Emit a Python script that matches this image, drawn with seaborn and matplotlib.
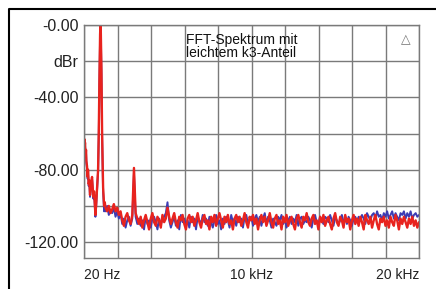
import numpy as np
import pandas as pd
import matplotlib
matplotlib.use("Agg")
import matplotlib.pyplot as plt
from matplotlib.lines import Line2D
import seaborn as sns

# ================= DATA (kHz / dBr) =================
# low-frequency part incl. the 1 kHz fundamental
LOW_FREQ_KHZ = [0.02, 0.04, 0.06, 0.08, 0.10, 0.12, 0.14, 0.16, 0.20, 0.24,
                0.26, 0.30, 0.34, 0.38, 0.42, 0.46, 0.50, 0.54, 0.58, 0.62,
                0.66, 0.70, 0.74, 0.78, 0.82, 0.86, 0.90, 0.94, 0.98, 1.00,
                1.02, 1.06, 1.10, 1.16, 1.22, 1.26]
LOW_RED_DB = [-66, -63, -68, -65, -70, -72, -69, -75, -78, -84,
              -80, -88, -86, -94, -90, -86, -84, -90, -95, -92,
              -98, -105, -100, -93, -87, -80, -60, -30, -5, -0.5,
              -2, -25, -60, -90, -100, -98]
LOW_BLUE_DB = [-67, -64, -69, -66, -71, -73, -70, -76, -79, -85,
               -81, -89, -87, -95, -91, -87, -85, -91, -96, -93,
               -99, -106, -101, -94, -88, -81, -62, -32, -7, -2,
               -4, -27, -62, -92, -103, -101]

# noise floor, 0.1 kHz bins from 1.3 kHz to 20 kHz
NOISE_FREQ_KHZ = [
    1.3, 1.4, 1.5, 1.6, 1.7, 1.8, 1.9, 2.0, 2.1, 2.2,
    2.3, 2.4, 2.5, 2.6, 2.7, 2.8, 2.9, 3.0, 3.1, 3.2,
    3.3, 3.4, 3.5, 3.6, 3.7, 3.8, 3.9, 4.0, 4.1, 4.2,
    4.3, 4.4, 4.5, 4.6, 4.7, 4.8, 4.9, 5.0, 5.1, 5.2,
    5.3, 5.4, 5.5, 5.6, 5.7, 5.8, 5.9, 6.0, 6.1, 6.2,
    6.3, 6.4, 6.5, 6.6, 6.7, 6.8, 6.9, 7.0, 7.1, 7.2,
    7.3, 7.4, 7.5, 7.6, 7.7, 7.8, 7.9, 8.0, 8.1, 8.2,
    8.3, 8.4, 8.5, 8.6, 8.7, 8.8, 8.9, 9.0, 9.1, 9.2,
    9.3, 9.4, 9.5, 9.6, 9.7, 9.8, 9.9, 10.0, 10.1, 10.2,
    10.3, 10.4, 10.5, 10.6, 10.7, 10.8, 10.9, 11.0, 11.1, 11.2,
    11.3, 11.4, 11.5, 11.6, 11.7, 11.8, 11.9, 12.0, 12.1, 12.2,
    12.3, 12.4, 12.5, 12.6, 12.7, 12.8, 12.9, 13.0, 13.1, 13.2,
    13.3, 13.4, 13.5, 13.6, 13.7, 13.8, 13.9, 14.0, 14.1, 14.2,
    14.3, 14.4, 14.5, 14.6, 14.7, 14.8, 14.9, 15.0, 15.1, 15.2,
    15.3, 15.4, 15.5, 15.6, 15.7, 15.8, 15.9, 16.0, 16.1, 16.2,
    16.3, 16.4, 16.5, 16.6, 16.7, 16.8, 16.9, 17.0, 17.1, 17.2,
    17.3, 17.4, 17.5, 17.6, 17.7, 17.8, 17.9, 18.0, 18.1, 18.2,
    18.3, 18.4, 18.5, 18.6, 18.7, 18.8, 18.9, 19.0, 19.1, 19.2,
    19.3, 19.4, 19.5, 19.6, 19.7, 19.8, 19.9, 20.0]
NOISE_RED_DB = [
    -101, -103, -100, -104, -102, -99, -103, -101, -105, -103,
    -108, -111, -106, -104, -108, -110, -105, -79, -104, -107,
    -110, -106, -112, -108, -105, -109, -113, -107, -104, -109,
    -111, -106, -108, -112, -105, -109, -107, -101, -106, -110,
    -107, -104, -109, -112, -106, -108, -105, -110, -113, -107,
    -105, -109, -106, -111, -108, -104, -109, -112, -107, -105,
    -110, -108, -113, -106, -109, -105, -111, -107, -104, -108,
    -112, -106, -109, -105, -110, -108, -113, -107, -105, -109,
    -106, -111, -108, -104, -109, -112, -106, -108, -105, -110,
    -107, -113, -108, -105, -109, -106, -111, -108, -104, -109,
    -112, -107, -105, -110, -108, -113, -106, -109, -105, -111,
    -108, -106, -110, -113, -107, -105, -109, -112, -106, -108,
    -104, -109, -111, -107, -105, -110, -108, -113, -106, -109,
    -105, -111, -108, -106, -110, -113, -107, -104, -109, -111,
    -106, -108, -112, -105, -109, -107, -113, -108, -105, -110,
    -107, -111, -106, -109, -113, -105, -108, -110, -106, -112,
    -108, -105, -110, -113, -107, -109, -106, -111, -108, -112,
    -106, -109, -111, -105, -108, -113, -107, -110, -106, -109,
    -112, -107, -110, -106, -111, -108, -112, -109]
NOISE_BLUE_DB = [
    -103, -100, -105, -102, -104, -101, -106, -103, -107, -104,
    -110, -107, -112, -108, -106, -111, -107, -82, -106, -110,
    -107, -111, -108, -113, -106, -110, -108, -112, -107, -106,
    -109, -113, -107, -110, -108, -106, -104, -98, -108, -112,
    -109, -106, -111, -108, -113, -105, -109, -107, -111, -108,
    -112, -106, -109, -107, -113, -106, -108, -110, -105, -109,
    -107, -111, -106, -109, -112, -108, -105, -110, -108, -113,
    -107, -110, -106, -108, -112, -105, -109, -107, -111, -106,
    -109, -107, -112, -106, -105, -110, -108, -106, -111, -107,
    -105, -109, -106, -111, -107, -104, -110, -106, -108, -112,
    -107, -109, -111, -106, -108, -105, -110, -107, -112, -108,
    -106, -110, -107, -109, -105, -111, -107, -106, -110, -108,
    -109, -106, -108, -112, -107, -105, -109, -110, -106, -108,
    -110, -106, -107, -109, -105, -108, -111, -106, -108, -110,
    -108, -105, -109, -107, -110, -106, -108, -111, -107, -106,
    -109, -106, -108, -105, -107, -110, -104, -106, -108, -105,
    -104, -107, -103, -106, -105, -108, -104, -106, -103, -107,
    -105, -103, -107, -104, -106, -108, -104, -105, -103, -107,
    -104, -106, -103, -107, -105, -104, -106, -105]

Y_TICKS = [0, -20, -40, -60, -80, -100, -120]
Y_TICK_LABELS = ["-0.00", "dBr", "-40.00", "", "-80.00", "", "-120.00"]
X_TICK_LABELS = ["20 Hz", "", "", "", "", "10 kHz", "", "", "", "", "20 kHz"]
TITLE = "FFT-Spektrum mit\nleichtem k3-Anteil"

RED = "#e8231e"
BLUE = "#3c3cb4"
GRID = "#7a7a7a"

# ================= PLOTTING =================
sns.set_theme(style="white")
plt.rcParams['font.family'] = ['Liberation Sans', 'DejaVu Sans']

freq = LOW_FREQ_KHZ + NOISE_FREQ_KHZ
df = pd.DataFrame({
    "freq": freq,
    "red": LOW_RED_DB + NOISE_RED_DB,
    "blue": LOW_BLUE_DB + NOISE_BLUE_DB,
})

fig = plt.figure(figsize=(4.36, 2.89), dpi=100)
ax = fig.add_axes([84 / 436, 1 - 258 / 289, 335 / 436, 233 / 289])

sns.lineplot(data=df, x="freq", y="blue", color=BLUE, lw=1.4, ax=ax,
             estimator=None, sort=False)
sns.lineplot(data=df, x="freq", y="red", color=RED, lw=1.7, ax=ax,
             estimator=None, sort=False)

ax.set_xlim(0.02, 20.0)
ax.set_ylim(-128.8, 0)
x_grid = np.linspace(0.02, 20.0, 11)
ax.set_xticks(x_grid)
ax.set_xticklabels(X_TICK_LABELS, fontsize=10)
ax.set_yticks(Y_TICKS)
ax.set_yticklabels(Y_TICK_LABELS, fontsize=11.5)
labels = ax.get_xticklabels()
labels[0].set_horizontalalignment("left")
labels[-1].set_horizontalalignment("right")
ax.tick_params(axis="x", length=0, pad=7, colors="#222222")
ax.tick_params(axis="y", length=3, width=1, pad=1, color=GRID, labelcolor="#222222")
ax.grid(True, color=GRID, lw=1)
ax.set_axisbelow(True)
for s in ax.spines.values():
    s.set_color(GRID)
    s.set_linewidth(1)
ax.set_xlabel("")
ax.set_ylabel("")

ax.text(0.305, 0.965, TITLE, transform=ax.transAxes, ha="left", va="top",
        fontsize=10, linespacing=0.85, color="#111111")
ax.text(0.96, 0.965, "\u25b3", transform=ax.transAxes, ha="center", va="top",
        fontsize=9, color="#777777", family=["DejaVu Sans"])

# outer frame (top + left)
fx, fy = 9 / 436, 1 - 9 / 289
fig.add_artist(Line2D([fx, fx, 1.0], [0.0, fy, fy], color="black", lw=1.5,
                      transform=fig.transFigure))

fig.savefig("out.png", dpi=100)
plt.close(fig)
